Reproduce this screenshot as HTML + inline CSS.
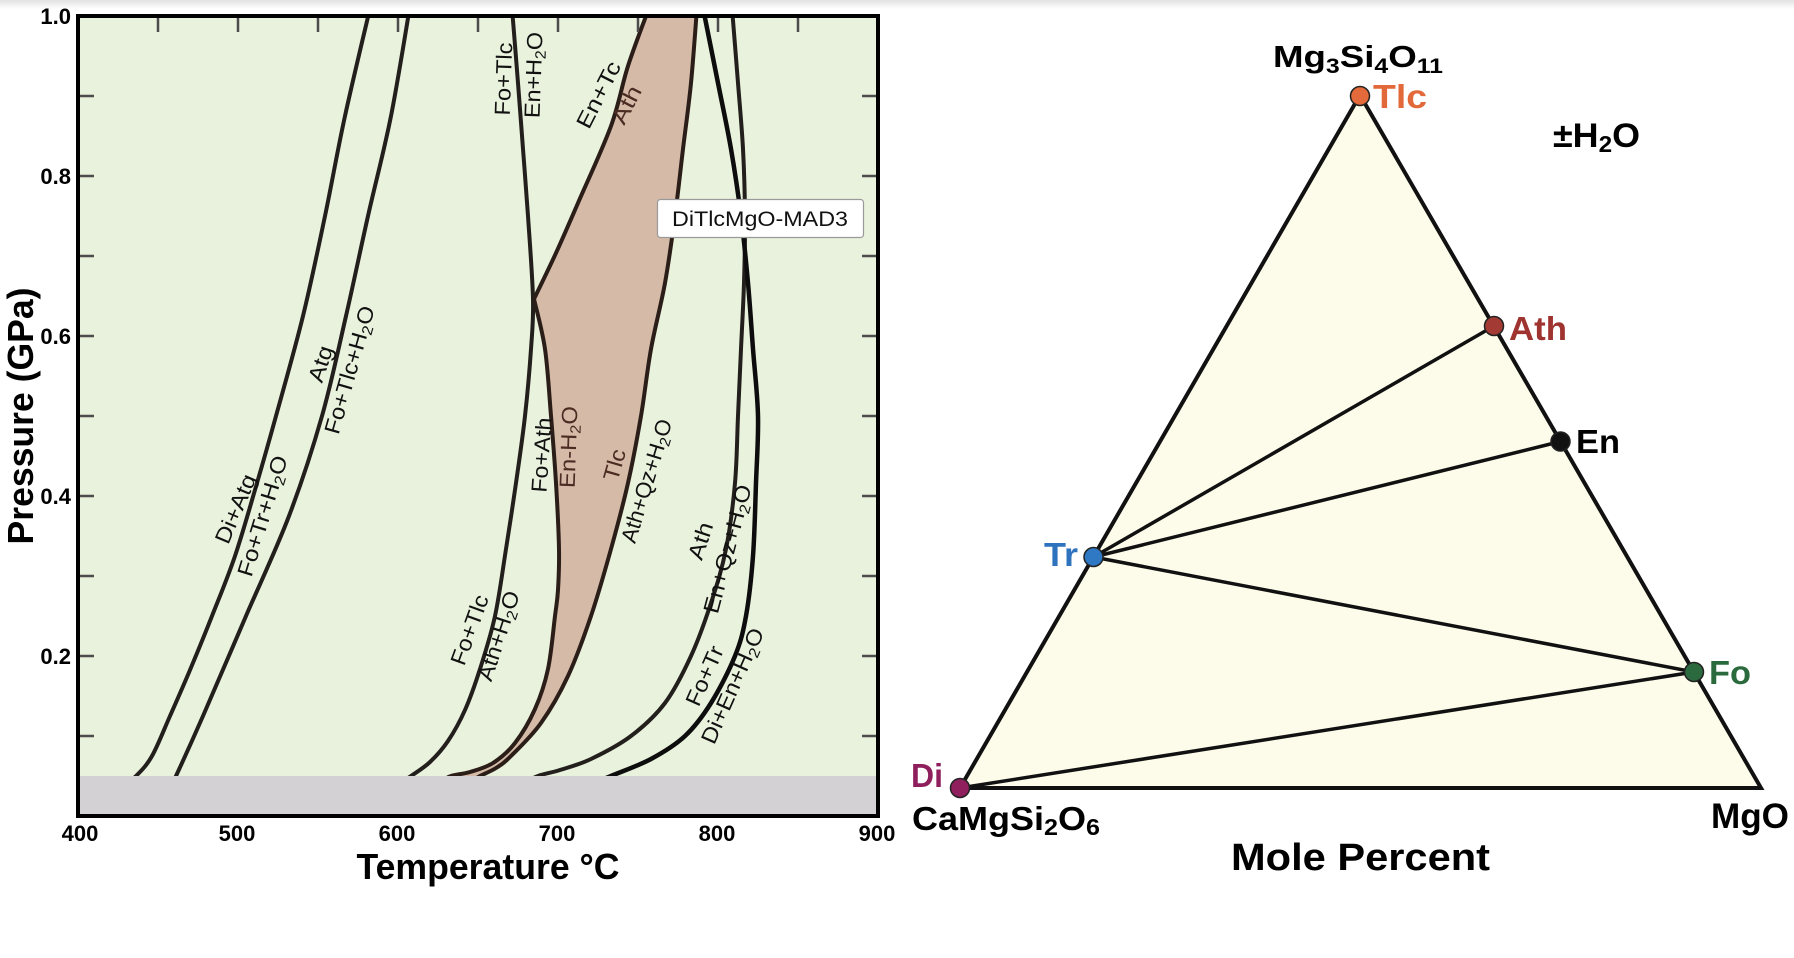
<!DOCTYPE html>
<html><head><meta charset="utf-8"><style>
html,body{margin:0;padding:0;background:#fff;}
svg{display:block;}
</style></head><body>
<svg id="S" width="1794" height="958" viewBox="0 0 1794 958" xmlns="http://www.w3.org/2000/svg" font-family="'Liberation Sans', Arial, sans-serif">
<defs>
<linearGradient id="tg" x1="0" y1="0" x2="0" y2="1"><stop offset="0" stop-color="#e2e2e2"/><stop offset="1" stop-color="#ffffff"/></linearGradient>
<clipPath id="pc"><rect x="78" y="16" width="800" height="800"/></clipPath>
</defs>
<rect x="0" y="0" width="1794" height="958" fill="#fff"/>
<rect x="0" y="0" width="1794" height="9" fill="url(#tg)"/>

<!-- LEFT PLOT -->
<rect x="78" y="16" width="800" height="800" fill="#e8f2dc"/>
<g clip-path="url(#pc)">
<polygon fill="#d4baa7" points="646,10 628,66 611,126 578,203 556,253 534,299 545,349 551,416 556,483 559,549 558,590 555,616 548,669 535,709 515,743 493,763 470,772 451,776 451,790 480,790 480,776 496,768 511,756 541,723 568,676 591,616 611,549 628,483 641,416 651,349 665,283 675,216 683,149 691,83 697,10"/>
<g fill="none" stroke="#231f1c" stroke-width="4" stroke-linejoin="round" stroke-linecap="round">
<polyline class="s" points="372,0 345,116 325,216 303,316 276,416 257,483 235,556 212,616 190,670 170,716 152,756 136,776 122,786"/>
<polyline class="s" points="411,0 391,116 368,216 346,316 322,416 289,516 246,616 203,716 176,776 166,796"/>
<polyline class="s" points="512,8 518,83 523,149 528,216 533,299 531,349 525,416 516,483 506,549 495,616 480,669 465,710 448,741 430,762 411,776 396,786"/>
<polyline class="s" points="732,8 738,83 743,149 745,216 744,283 741,349 738,416 735,483 726,549 711,603 691,656 665,703 631,736 591,759 560,770 538,776 522,784"/>
</g>
<polyline class="s" fill="none" stroke="#0d0d0d" stroke-width="4.5" stroke-linejoin="round" points="703,8 718,83 731,149 741,216 748,283 753,349 758,416 756,483 753,556 746,616 735,656 711,703 685,736 651,759 611,776 592,784"/>
<g fill="none" stroke="#2b1d18" stroke-width="4" stroke-linejoin="round">
<polyline class="s" points="649,8 628,66 611,126 578,203 556,253 534,299"/>
<polyline class="s" points="534,299 545,349 551,416 556,483 559,549 558,590 555,616 548,669 535,709 515,743 493,763 470,772 451,776 440,782"/>
<polyline class="s" points="697,8 691,83 683,149 675,216 665,283 651,349 641,416 628,483 611,549 591,616 568,676 541,723 511,756 496,768 480,776 470,782"/>
</g>
</g>

<!-- curve labels -->
<g font-size="22" fill="#111">
<text transform="translate(236,509) rotate(-67)" y="7" text-anchor="middle" textLength="73" lengthAdjust="spacingAndGlyphs">Di+Atg</text>
<text transform="translate(263,516) rotate(-73)" y="7" text-anchor="middle" textLength="125" lengthAdjust="spacingAndGlyphs">Fo+Tr+H<tspan font-size="15" dy="4">2</tspan><tspan dy="-4">O</tspan></text>
<text transform="translate(321,364) rotate(-72)" y="7" text-anchor="middle" textLength="37" lengthAdjust="spacingAndGlyphs">Atg</text>
<text transform="translate(350,370) rotate(-74)" y="7" text-anchor="middle" textLength="132" lengthAdjust="spacingAndGlyphs">Fo+Tlc+H<tspan font-size="15" dy="4">2</tspan><tspan dy="-4">O</tspan></text>
<text transform="translate(504,79) rotate(-88)" y="7" text-anchor="middle" textLength="73" lengthAdjust="spacingAndGlyphs">Fo+Tlc</text>
<text transform="translate(534,75) rotate(-88)" y="7" text-anchor="middle" textLength="86" lengthAdjust="spacingAndGlyphs">En+H<tspan font-size="15" dy="4">2</tspan><tspan dy="-4">O</tspan></text>
<text transform="translate(599,95) rotate(-63)" y="7" text-anchor="middle" textLength="72" lengthAdjust="spacingAndGlyphs">En+Tc</text>
<text transform="translate(627,105) rotate(-63)" y="7" text-anchor="middle" textLength="40" lengthAdjust="spacingAndGlyphs" fill="#4b2b22">Ath</text>
<text transform="translate(542,455) rotate(-86)" y="7" text-anchor="middle" textLength="75" lengthAdjust="spacingAndGlyphs">Fo+Ath</text>
<text transform="translate(569,447) rotate(-88)" y="7" text-anchor="middle" textLength="82" lengthAdjust="spacingAndGlyphs" fill="#4b2b22">En-H<tspan font-size="15" dy="4">2</tspan><tspan dy="-4">O</tspan></text>
<text transform="translate(615,465) rotate(-74)" y="7" text-anchor="middle" textLength="32" lengthAdjust="spacingAndGlyphs" fill="#4b2b22">Tlc</text>
<text transform="translate(647,481) rotate(-73)" y="7" text-anchor="middle" textLength="128" lengthAdjust="spacingAndGlyphs">Ath+Qz+H<tspan font-size="15" dy="4">2</tspan><tspan dy="-4">O</tspan></text>
<text transform="translate(470,630) rotate(-70)" y="7" text-anchor="middle" textLength="73" lengthAdjust="spacingAndGlyphs">Fo+Tlc</text>
<text transform="translate(499,636) rotate(-72)" y="7" text-anchor="middle" textLength="93" lengthAdjust="spacingAndGlyphs">Ath+H<tspan font-size="15" dy="4">2</tspan><tspan dy="-4">O</tspan></text>
<text transform="translate(701,541) rotate(-72)" y="7" text-anchor="middle" textLength="38" lengthAdjust="spacingAndGlyphs">Ath</text>
<text transform="translate(728,549) rotate(-75)" y="7" text-anchor="middle" textLength="132" lengthAdjust="spacingAndGlyphs">En+Qz+H<tspan font-size="15" dy="4">2</tspan><tspan dy="-4">O</tspan></text>
<text transform="translate(705,676) rotate(-66)" y="7" text-anchor="middle" textLength="63" lengthAdjust="spacingAndGlyphs">Fo+Tr</text>
<text transform="translate(733,686) rotate(-66)" y="7" text-anchor="middle" textLength="124" lengthAdjust="spacingAndGlyphs">Di+En+H<tspan font-size="15" dy="4">2</tspan><tspan dy="-4">O</tspan></text>
</g>

<rect x="80" y="776" width="796" height="38" fill="#d3d1d3"/>

<!-- ticks -->
<g stroke="#4d4d4d" stroke-width="2.5">
<line x1="158" y1="18" x2="158" y2="32"/><line x1="238" y1="18" x2="238" y2="32"/><line x1="318" y1="18" x2="318" y2="32"/><line x1="398" y1="18" x2="398" y2="32"/><line x1="478" y1="18" x2="478" y2="32"/><line x1="558" y1="18" x2="558" y2="32"/><line x1="638" y1="18" x2="638" y2="32"/><line x1="718" y1="18" x2="718" y2="32"/><line x1="798" y1="18" x2="798" y2="32"/>
<line x1="80" y1="96" x2="94" y2="96"/><line x1="80" y1="176" x2="94" y2="176"/><line x1="80" y1="256" x2="94" y2="256"/><line x1="80" y1="336" x2="94" y2="336"/><line x1="80" y1="416" x2="94" y2="416"/><line x1="80" y1="496" x2="94" y2="496"/><line x1="80" y1="576" x2="94" y2="576"/><line x1="80" y1="656" x2="94" y2="656"/><line x1="80" y1="736" x2="94" y2="736"/>
<line x1="862" y1="96" x2="876" y2="96"/><line x1="862" y1="176" x2="876" y2="176"/><line x1="862" y1="256" x2="876" y2="256"/><line x1="862" y1="336" x2="876" y2="336"/><line x1="862" y1="416" x2="876" y2="416"/><line x1="862" y1="496" x2="876" y2="496"/><line x1="862" y1="576" x2="876" y2="576"/><line x1="862" y1="656" x2="876" y2="656"/><line x1="862" y1="736" x2="876" y2="736"/>
</g>
<rect x="78" y="16" width="800" height="800" fill="none" stroke="#000" stroke-width="4"/>

<!-- legend -->
<rect x="657.5" y="199.5" width="206" height="38" rx="3" fill="#fff" stroke="#9a9a9a" stroke-width="1.2"/>
<text x="760" y="226" text-anchor="middle" font-size="21" fill="#111" textLength="176" lengthAdjust="spacingAndGlyphs">DiTlcMgO-MAD3</text>

<!-- axis labels -->
<g font-weight="bold" font-size="22" fill="#000">
<text x="71" y="24" text-anchor="end">1.0</text>
<text x="71" y="184" text-anchor="end">0.8</text>
<text x="71" y="344" text-anchor="end">0.6</text>
<text x="71" y="504" text-anchor="end">0.4</text>
<text x="71" y="664" text-anchor="end">0.2</text>
<text x="80" y="841" text-anchor="middle">400</text>
<text x="237" y="841" text-anchor="middle">500</text>
<text x="397" y="841" text-anchor="middle">600</text>
<text x="557" y="841" text-anchor="middle">700</text>
<text x="717" y="841" text-anchor="middle">800</text>
<text x="877" y="841" text-anchor="middle">900</text>
</g>
<text x="488" y="879" text-anchor="middle" font-weight="bold" font-size="36" textLength="263" lengthAdjust="spacingAndGlyphs">Temperature °C</text>
<text transform="translate(33,416) rotate(-90)" text-anchor="middle" font-weight="bold" font-size="36" textLength="257" lengthAdjust="spacingAndGlyphs">Pressure (GPa)</text>

<!-- RIGHT TERNARY -->
<polygon points="960,788 1761,788 1360,95" fill="#fdfbe9" stroke="#111" stroke-width="4" stroke-linejoin="miter"/>
<g stroke="#111" stroke-width="3.5" stroke-linecap="round">
<line x1="1093.5" y1="557" x2="1494" y2="326"/>
<line x1="1093.5" y1="557" x2="1560.5" y2="441.5"/>
<line x1="1093.5" y1="557" x2="1694" y2="672"/>
<line x1="960" y1="788" x2="1694" y2="672"/>
</g>
<g stroke="#222" stroke-width="1.5">
<circle cx="1360" cy="96" r="9.5" fill="#e46a3b"/>
<circle cx="1494" cy="326" r="9.5" fill="#a33a33"/>
<circle cx="1560.5" cy="441.5" r="9.5" fill="#111"/>
<circle cx="1093.5" cy="557" r="9.5" fill="#2f78c4"/>
<circle cx="1694" cy="672" r="9.5" fill="#2b6a3e"/>
<circle cx="960" cy="788" r="9.5" fill="#8f1f5d"/>
</g>
<g font-weight="bold" font-size="33">
<text x="1273" y="67" font-size="31" textLength="170" lengthAdjust="spacingAndGlyphs" fill="#000">Mg<tspan font-size="21" dy="6">3</tspan><tspan dy="-6">Si</tspan><tspan font-size="21" dy="6">4</tspan><tspan dy="-6">O</tspan><tspan font-size="21" dy="6">11</tspan></text>
<text x="1373" y="108" textLength="54" lengthAdjust="spacingAndGlyphs" fill="#e2693a">Tlc</text>
<text x="1553" y="147" font-size="34" textLength="87" lengthAdjust="spacingAndGlyphs" fill="#000">±H<tspan font-size="23" dy="5">2</tspan><tspan dy="-5">O</tspan></text>
<text x="1509" y="340" textLength="58" lengthAdjust="spacingAndGlyphs" fill="#9f3330">Ath</text>
<text x="1576" y="453" textLength="44" lengthAdjust="spacingAndGlyphs" fill="#000">En</text>
<text x="1044" y="566" textLength="34" lengthAdjust="spacingAndGlyphs" fill="#2f72bd">Tr</text>
<text x="1709" y="684" textLength="42" lengthAdjust="spacingAndGlyphs" fill="#2a6a3c">Fo</text>
<text x="911" y="787" textLength="32" lengthAdjust="spacingAndGlyphs" fill="#8e1f5c">Di</text>
<text x="912" y="830" textLength="188" lengthAdjust="spacingAndGlyphs" fill="#000">CaMgSi<tspan font-size="23" dy="5">2</tspan><tspan dy="-5">O</tspan><tspan font-size="23" dy="5">6</tspan></text>
<text x="1711" y="828" font-size="35" textLength="78" lengthAdjust="spacingAndGlyphs" fill="#000">MgO</text>
<text x="1231" y="870" font-size="38" textLength="259" lengthAdjust="spacingAndGlyphs" fill="#000">Mole Percent</text>
</g>
</svg>
<script>
(function(){
  var els=document.querySelectorAll('polyline.s');
  for(var k=0;k<els.length;k++){
    var el=els[k];
    var raw=el.getAttribute('points').trim().split(/\s+/);
    var p=raw.map(function(s){var a=s.split(',');return [parseFloat(a[0]),parseFloat(a[1])];});
    if(p.length<3)continue;
    var d='M'+p[0][0]+','+p[0][1];
    for(var i=0;i<p.length-1;i++){
      var p0=p[i-1]||p[i], p1=p[i], p2=p[i+1], p3=p[i+2]||p[i+1];
      var c1x=p1[0]+(p2[0]-p0[0])/6, c1y=p1[1]+(p2[1]-p0[1])/6;
      var c2x=p2[0]-(p3[0]-p1[0])/6, c2y=p2[1]-(p3[1]-p1[1])/6;
      d+=' C'+c1x.toFixed(2)+','+c1y.toFixed(2)+' '+c2x.toFixed(2)+','+c2y.toFixed(2)+' '+p2[0]+','+p2[1];
    }
    var path=document.createElementNS('http://www.w3.org/2000/svg','path');
    for(var j=0;j<el.attributes.length;j++){
      var at=el.attributes[j];
      if(at.name!=='points'&&at.name!=='class')path.setAttribute(at.name,at.value);
    }
    path.setAttribute('d',d);
    el.parentNode.replaceChild(path,el);
  }
})();
</script>
</body></html>
